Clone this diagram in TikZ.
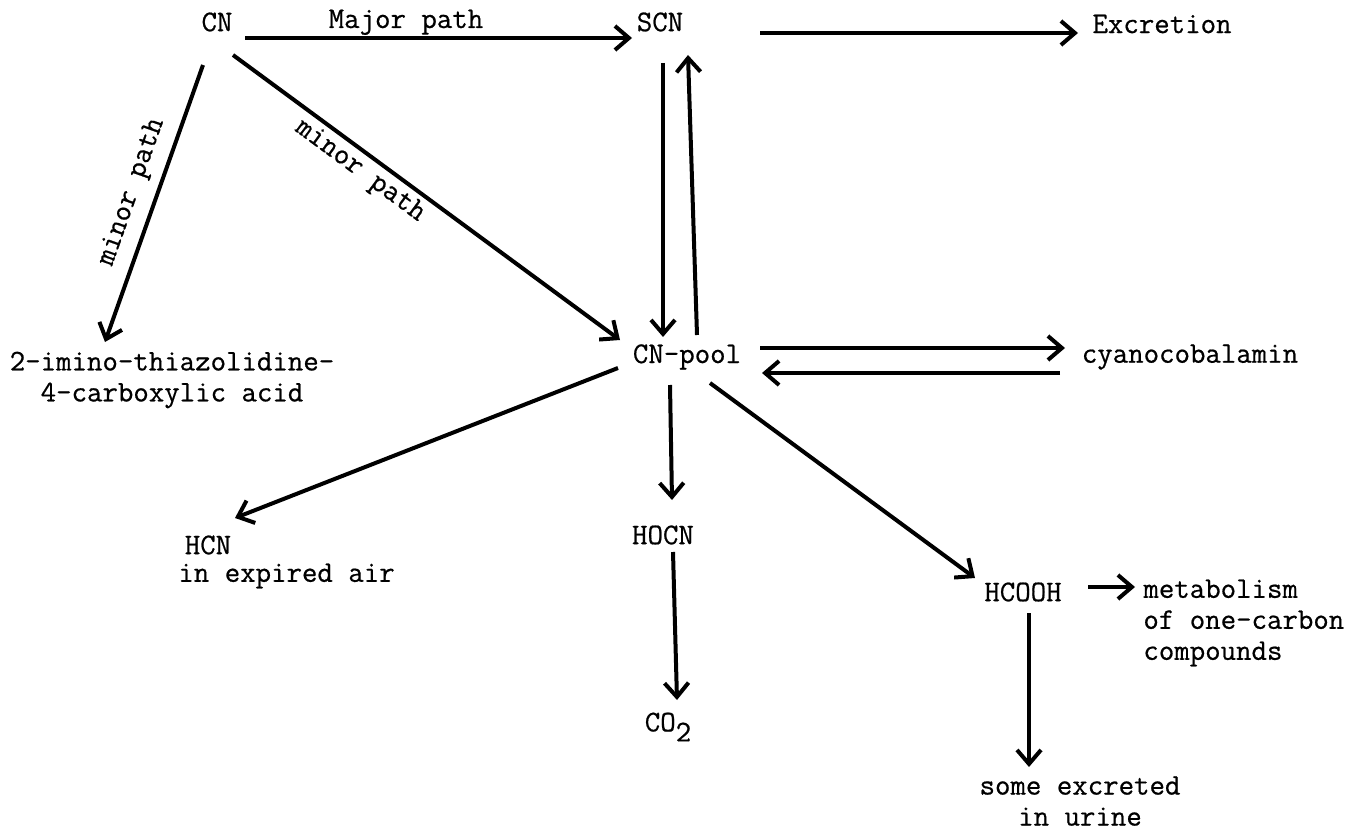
\documentclass[tikz,border=0pt]{standalone}
\usepackage{fontspec}
\setmonofont[FakeBold=0.6]{Latin Modern Mono}
\usetikzlibrary{arrows.meta}
\begin{document}
\begin{tikzpicture}[x=0.5pt,y=-0.5pt,
  txt/.style={font=\fontsize{15}{15.5}\selectfont\ttfamily, inner sep=0pt, align=center},
  arr/.style={line width=2pt, -{Straight Barb[length=7pt,width=12pt,line width=2pt]}},
  lbl/.style={font=\fontsize{15}{15.5}\selectfont\ttfamily, inner sep=0pt}]
\useasboundingbox (0,0) rectangle (1370,834);
\node[txt] (cn) at (217,22) {CN};
\node[txt] (scn) at (660,22) {SCN};
\node[txt] (exc) at (1162,24) {Excretion};
\node[txt] (pool) at (687,357) {CN-pool};
\node[txt] (cyano) at (1190,357) {cyanocobalamin};
\node[txt] (imino) at (172,380) {2-imino-thiazolidine-\\4-carboxylic acid};
\node[txt] (hcn) at (208,545) {HCN};
\node[txt, anchor=west] (air) at (178,576) {in expired air};
\node[txt] (hocn) at (663,535) {HOCN};
\node[txt] (co2) at (668,727) {CO\raisebox{-5pt}{2}};
\node[txt] (hcooh) at (1023,592) {HCOOH};
\node[txt, align=left, anchor=west] (metab) at (1143,623) {metabolism\\of one-carbon\\compounds};
\node[txt] (urine) at (1080,801) {some excreted\\in urine};

\draw[arr] ([shift={(28,16)}]cn.center) -- node[lbl, pos=0.416, anchor=base, yshift=5pt] {Major path} ([shift={(-28,16)}]scn.center);
\draw[arr] ([shift={(100,11)}]scn.center) -- ([shift={(-84,9)}]exc.center);
\draw[arr] ([shift={(3,41)}]scn.center) -- ([shift={(-24,-20)}]pool.center);
\draw[arr] ([shift={(10,-22)}]pool.center) -- ([shift={(28,33)}]scn.center);
\draw[arr] ([shift={(73,-9)}]pool.center) -- ([shift={(-125,-9)}]cyano.center);
\draw[arr] ([shift={(-130,16)}]cyano.center) -- ([shift={(75,16)}]pool.center);
\draw[arr] ([shift={(-14,43)}]cn.center) -- node[lbl, sloped, pos=0.488, above=5pt] {minor path} ([shift={(-67,-38)}]imino.center);
\draw[arr] ([shift={(16,33)}]cn.center) -- node[lbl, sloped, pos=0.356, below=2pt] {minor path} ([shift={(-67,-17)}]pool.center);
\draw[arr] ([shift={(-69,11)}]pool.center) -- ([shift={(27,-27)}]hcn.center);
\draw[arr] ([shift={(-17,28)}]pool.center) -- ([shift={(9,-35)}]hocn.center);
\draw[arr] ([shift={(10,17)}]hocn.center) -- ([shift={(9,-27)}]co2.center);
\draw[arr] ([shift={(23,26)}]pool.center) -- ([shift={(-48,-14)}]hcooh.center);
\draw[arr] ([shift={(65,-5)}]hcooh.center) -- ([shift={(-8,-36)}]metab.west);
\draw[arr] ([shift={(6,21)}]hcooh.center) -- ([shift={(-51,-34)}]urine.center);
\end{tikzpicture}
\end{document}
